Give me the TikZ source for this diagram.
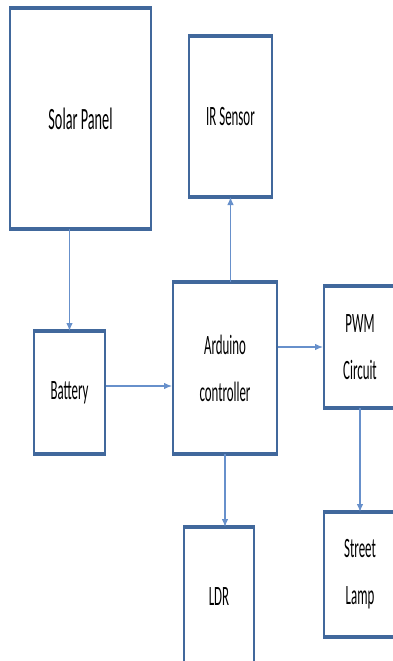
\documentclass[tikz,border=0pt]{standalone}
\usepackage{fontspec}
\setmainfont{Carlito}
\usetikzlibrary{arrows.meta}
\definecolor{bc}{HTML}{41689C}
\definecolor{cc}{HTML}{6790CB}
\newcommand{\sq}[1]{\scalebox{0.46}[1]{#1}}
\tikzset{
  box/.style={draw=bc, line width=2pt, inner sep=0pt, align=center, font=\fontsize{28}{47}\selectfont},
  thickedge/.style={draw=bc, line width=4.2pt},
  conn/.style={draw=cc, line width=1.2pt, -{Latex[length=8pt,width=6.5pt]}}
}
\begin{document}
\begin{tikzpicture}[x=1pt,y=-1pt]
\useasboundingbox (0,0) rectangle (393,661);
\clip (0,0) rectangle (393,661);
\fill[white] (0,0) rectangle (393,661);
% boxes
\node[box, minimum width=141pt, minimum height=219pt, font=\fontsize{31}{47}\selectfont] (solar) at (80.5,118.5) {\sq{Solar Panel}};
\node[box, minimum width=83pt, minimum height=159pt] (ir) at (230.5,116.5) {\sq{IR Sensor}};
\node[box, minimum width=71pt, minimum height=121pt] (bat) at (69.5,392.5) {\sq{Battery}};
\node[box, minimum width=104pt, minimum height=170pt] (ard) at (225,368) {\sq{Arduino}\\\sq{controller}};
\node[box, minimum width=72pt, minimum height=120pt] (pwm) at (360,347) {\sq{PWM}\\\sq{Circuit}};
\node[box, minimum width=72pt, minimum height=123pt] (lamp) at (360,574.5) {\sq{Street}\\\sq{Lamp}};
\node[box, minimum width=70pt, minimum height=138pt] (ldr) at (219,597) {\sq{LDR}};
% thick top and bottom edges
\foreach \n in {solar,ir,bat,ard,pwm,lamp,ldr}{
  \draw[thickedge] (\n.north west) -- (\n.north east);
  \draw[thickedge] (\n.south west) -- (\n.south east);
}
% connectors
\draw[conn] (solar.south -| bat.north) -- (bat.north);
\draw[conn] ([yshift=6.5pt]bat.east) -- ([yshift=6.5pt]bat.east -| ard.west);
\draw[conn] (ir.south |- ard.north) -- (ir.south);
\draw[conn] (ard.east |- pwm.west) -- (pwm.west);
\draw[conn] (pwm.south -| lamp.north) -- (lamp.north);
\draw[conn] (ard.south) -- (ard.south |- ldr.north);
\end{tikzpicture}
\end{document}
